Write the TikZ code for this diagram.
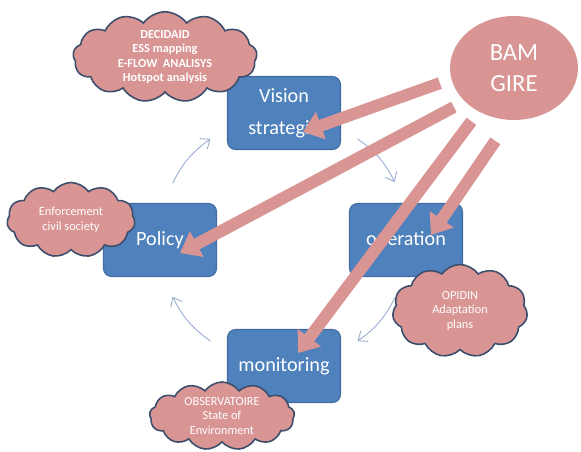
\documentclass[tikz,border=0pt]{standalone}
\usepackage{fontspec}
\setmainfont{Carlito}
\usetikzlibrary{arrows.meta,shapes.symbols,shapes.geometric,calc}
\definecolor{stageblue}{RGB}{79,129,189}
\definecolor{stageedge}{RGB}{66,108,160}
\definecolor{bampink}{RGB}{217,149,148}
\definecolor{puffedge}{RGB}{60,78,108}
\definecolor{cycblue}{RGB}{150,172,205}

\begin{document}
\begin{tikzpicture}[x=0.02cm, y=-0.02cm,
  stage/.style={draw=stageedge, line width=0.6pt, fill=stageblue, rounded corners=0.16cm,
                minimum width=2.26cm, minimum height=1.46cm, text=white, align=center,
                font=\fontsize{11.5}{18}\selectfont},
  puff/.style={cloud, cloud puffs=13, cloud puff arc=110, cloud ignores aspect,
               draw=puffedge, line width=0.9pt,
               fill=bampink, text=white, inner sep=0pt, align=center,
               font=\fontsize{7}{8.3}\selectfont},
  push/.style={draw=bampink, line width=0.24cm, shorten <=0.24cm,
               -{Triangle[length=0.38cm,width=0.56cm]}},
  turn/.style={draw=cycblue, line width=0.5pt, bend left=14,
               -{Straight Barb[length=1.6mm,width=2.6mm]}},
]
\useasboundingbox (0,0) rectangle (581,452);
% ---- the four stages of the cycle
\node[stage] (vision) at (284,113) {Vision\\strategie};
\node[stage] (policy) at (160,240) {Policy};
\node[stage] (operation) at (406,240) {operation};
\node[stage] (monitoring) at (284,366) {monitoring};
% ---- cycle arcs, round a common hub
\coordinate (hub) at (284,240);
\foreach \n/\ang in {a/-153, b/-126, c/-54, d/-27.6, e/27.6, f/54, g/126, h/153} {
  \coordinate (cyc\n) at ($(hub)+(\ang:125)$);
}
\draw[turn] (cyca) to (cycb);
\draw[turn] (cycc) to (cycd);
\draw[turn] (cyce) to (cycf);
\draw[turn] (cycg) to (cych);
% ---- tools attached to each stage
\node[puff, font=\fontsize{7}{8.3}\selectfont\bfseries, minimum width=3.68cm, minimum height=1.74cm]
  (tools) at (165,57) {DECIDAID\\ESS mapping\\E-FLOW\ \ ANALISYS\\Hotspot analysis};
\node[puff, cloud puffs=11, minimum width=2.56cm, minimum height=1.5cm] (civil) at (71,220)
  {Enforcement\\civil society};
\node[puff, cloud puffs=11, minimum width=2.7cm, minimum height=1.86cm] (opidin) at (460,311)
  {OPIDIN\\Adaptation\\plans};
\node[puff, minimum width=2.9cm, minimum height=1.36cm] (observ) at (222,416)
  {OBSERVATOIRE\\State of\\Environment};
% ---- BAM GIRE and what it pushes into
\node[ellipse, fill=bampink, minimum width=2.56cm, minimum height=2.08cm, text=white,
      align=center, font=\fontsize{14}{17.6}\selectfont] (bam) at (514,68) {BAM\\GIRE};
\coordinate (vTip) at (303,132);
\coordinate (pTip) at (180,253);
\coordinate (mTip) at (298,353);
\coordinate (oTip) at (431,235);
\draw[push] (bam.190) -- (vTip);
\draw[push] (bam.214) -- (pTip);
\draw[push] (bam.231) -- (mTip);
\draw[push, shorten <=0.5cm] (bam.265) -- (oTip);
\end{tikzpicture}
\end{document}
